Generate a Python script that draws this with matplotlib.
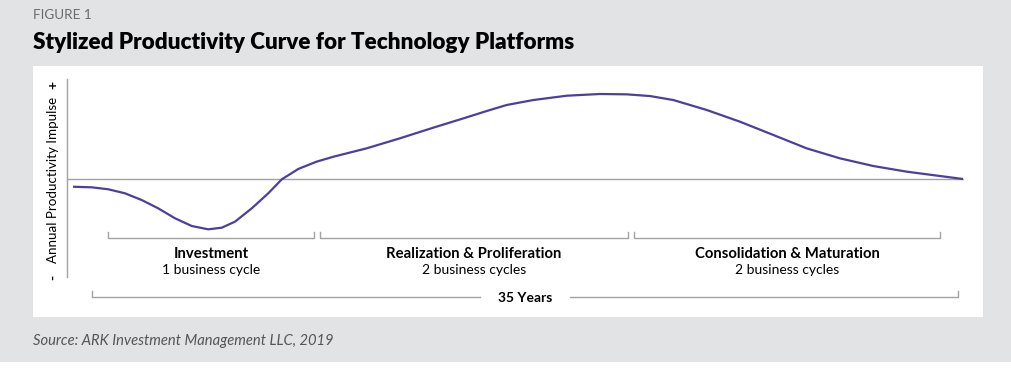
import matplotlib
matplotlib.use("Agg")
from matplotlib import pyplot as plt
from matplotlib.patches import Rectangle

# stylized curve: years since platform start vs. productivity impulse (peak = 1)
years = [0.0, 0.74, 1.39, 2.04, 2.70, 3.35, 4.01, 4.67, 5.32, 5.85, 6.37,
         7.03, 7.68, 8.21, 8.86, 9.58, 10.24, 11.55, 12.86, 14.17, 15.48,
         16.27, 17.06, 18.10, 19.42, 20.72, 21.77, 22.69, 23.61, 24.92,
         26.23, 27.54, 28.85, 30.16, 31.47, 32.79, 34.10, 35.0]
impulse = [-0.091, -0.098, -0.121, -0.168, -0.247, -0.345, -0.462, -0.553,
           -0.592, -0.573, -0.502, -0.345, -0.168, -0.004, 0.118, 0.204,
           0.262, 0.361, 0.479, 0.604, 0.725, 0.800, 0.871, 0.929, 0.980,
           1.000, 0.996, 0.976, 0.929, 0.812, 0.674, 0.518, 0.361, 0.243,
           0.153, 0.086, 0.035, 0.0]

phase_names = ["Investment", "Realization & Proliferation", "Consolidation & Maturation"]
phase_cycles = ["1 business cycle", "2 business cycles", "2 business cycles"]
total_label = "35 Years"

W, H = 1012, 374
bg_gray = "#e2e3e5"
line_gray = "#a3a3a3"
curve_color = "#4b3f9f"

fig = plt.figure(figsize=(W / 100, H / 100), dpi=100)
fig.patch.set_facecolor("white")

# overlay in pixel coordinates for the panel decorations
ov = fig.add_axes([0, 0, 1, 1])
ov.set_xlim(0, W)
ov.set_ylim(H, 0)
ov.axis("off")
ov.add_patch(Rectangle((0, 0), W, 362, facecolor=bg_gray, edgecolor="none"))
ov.add_patch(Rectangle((33, 66), 950, 251, facecolor="white", edgecolor="none"))

ov.text(33, 15, "FIGURE 1", fontsize=9.7, color="#6b6b6b", family="Lato",
        va="center", ha="left")
ov.text(33, 42, "Stylized Productivity Curve for Technology Platforms",
        fontsize=16.2, color="black", family="Lato", weight="heavy",
        va="center", ha="left")
ov.text(33, 341, "Source: ARK Investment Management LLC, 2019", fontsize=10.6,
        color="#555555", family="Lato", style="italic", va="center", ha="left")

# y axis and zero line
ov.plot([67, 67], [79, 277], color=line_gray, lw=1)
ov.plot([67, 963], [179, 179], color=line_gray, lw=1)
ov.text(53, 180, "Annual Productivity Impulse", rotation=90, fontsize=9.6,
        family="Lato", color="black", ha="center", va="center")
ov.text(53, 85, "+", rotation=90, fontsize=10, family="Lato", weight="bold",
        ha="center", va="center")
ov.text(53, 277, "-", rotation=90, fontsize=10, family="Lato", weight="bold",
        ha="center", va="center")

# phase brackets
spans = [(108, 314), (320, 628), (634, 940)]
for (x0, x1), name, cyc in zip(spans, phase_names, phase_cycles):
    ov.plot([x0, x0, x1, x1], [232, 238, 238, 232], color=line_gray, lw=1)
    cx = (x0 + x1) / 2
    ov.text(cx, 254, name, fontsize=10.7, family="Lato", weight="bold",
            ha="center", va="center")
    ov.text(cx, 270, cyc, fontsize=10, family="Lato", ha="center", va="center")

# total span bracket
ov.plot([92, 92, 480], [291, 297, 297], color=line_gray, lw=1)
ov.plot([570, 958, 958], [297, 297, 291], color=line_gray, lw=1)
ov.text(525, 298, total_label, fontsize=10, family="Lato", weight="bold",
        ha="center", va="center")

# the curve itself, placed so year 0 -> px 73, year 35 -> px 963
ax = fig.add_axes([73 / W, 1 - 277 / H, 890 / W, 198 / H])
ax.set_xlim(0, 35)
ax.set_ylim(-98 / 85, 100 / 85)
ax.axis("off")
ax.plot(years, impulse, color=curve_color, lw=1.6, solid_joinstyle="round",
        solid_capstyle="round")

fig.savefig("out.png", dpi=100, facecolor=fig.get_facecolor())
